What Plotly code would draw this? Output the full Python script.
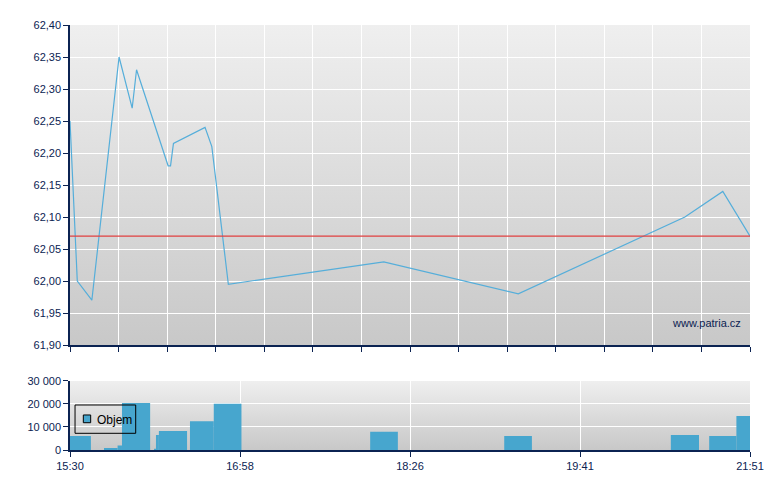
import base64
import plotly.graph_objects as go

# osa x: pozice v intervalech mřížky (0 = 15:30, 14 = 21:51)
cena_x = [0, 0.15, 0.45, 1.01, 1.28, 1.37, 2.02, 2.07, 2.13, 2.78, 2.92, 3.26,
          6.46, 9.23, 12.66, 13.44, 14.0]
cena_y = [62.25, 62.00, 61.97, 62.35, 62.27, 62.33, 62.18, 62.18, 62.215, 62.24,
          62.21, 61.995, 62.03, 61.98, 62.10, 62.14, 62.07]
predchozi_zaviraci = 62.07

objem_od = [0.0, 0.70, 0.98, 1.07, 1.73, 1.77, 1.83, 2.47, 2.96, 6.18, 8.94,
            12.37, 13.16, 13.72]
objem_do = [0.43, 0.98, 1.07, 1.65, 1.77, 1.83, 2.41, 2.96, 3.53, 6.75, 9.51,
            12.95, 13.72, 14.0]
objem = [6100, 900, 1900, 20400, 300, 6500, 8200, 12500, 20000, 7900, 6050,
         6500, 6050, 14700]

casy_pozice = [0, 3.5, 7, 10.5, 14]
casy_popisky = ["15:30", "16:58", "18:26", "19:41", "21:51"]

cena_ticky = [61.90, 61.95, 62.00, 62.05, 62.10, 62.15, 62.20, 62.25, 62.30, 62.35, 62.40]
objem_ticky = [0, 10000, 20000, 30000]

MODRA = "#47A6CE"
NAVY = "#0B2352"
FONT = "Liberation Sans, Arial, sans-serif"

# šedý přechod pozadí jako SVG obrázek
svg = ('<svg xmlns="http://www.w3.org/2000/svg" width="10" height="100" preserveAspectRatio="none">'
       '<defs><linearGradient id="g" x1="0" y1="0" x2="0" y2="1">'
       '<stop offset="0" stop-color="#EFEFEF"/><stop offset="1" stop-color="#C8C8C8"/>'
       '</linearGradient></defs><rect width="10" height="100" fill="url(#g)"/></svg>')
grad = "data:image/svg+xml;base64," + base64.b64encode(svg.encode()).decode()

sirky = [b - a for a, b in zip(objem_od, objem_do)]

fig = go.Figure()

fig.add_trace(go.Scatter(
    x=cena_x, y=cena_y, mode="lines",
    line=dict(color="#55AEDA", width=1.2),
    showlegend=False, xaxis="x", yaxis="y"))

fig.add_trace(go.Bar(
    x=objem_od, y=objem, width=sirky, offset=0,
    marker=dict(color=MODRA, line=dict(width=0)),
    showlegend=False, xaxis="x2", yaxis="y2"))

fig.add_shape(type="line", xref="x", yref="y", x0=0, x1=14,
              y0=predchozi_zaviraci, y1=predchozi_zaviraci,
              line=dict(color="#E04040", width=1.2))

# ruční legenda objemu
fig.add_shape(type="rect", xref="paper", yref="paper",
              x0=0.0074, x1=0.0966, y0=0.0393, y1=0.1059,
              line=dict(color="black", width=1), fillcolor="rgba(0,0,0,0)")
fig.add_shape(type="rect", xref="paper", yref="paper",
              x0=0.0196, x1=0.0304, y0=0.0642, y1=0.0824,
              line=dict(color="black", width=1), fillcolor=MODRA)

osa = dict(showline=True, linecolor=NAVY, linewidth=1.5, ticks="outside",
           tickcolor=NAVY, ticklen=5, gridcolor="white", gridwidth=1.2,
           zeroline=False, tickfont=dict(family=FONT, size=11, color=NAVY))

fig.update_layout(
    width=780, height=490,
    margin=dict(l=62, r=38, t=17, b=48),
    paper_bgcolor="white", plot_bgcolor="rgba(0,0,0,0)",
    separators=", ",
    showlegend=False,
    font=dict(family=FONT, size=11, color=NAVY),
    xaxis=dict(osa, domain=[0, 1], range=[0, 14], dtick=1, tick0=0,
               showticklabels=False, anchor="y"),
    yaxis=dict(osa, domain=[0.247, 1], range=[61.90, 62.40],
               tickvals=cena_ticky, tickformat=".2f", anchor="x"),
    xaxis2=dict(osa, domain=[0, 1], range=[0, 14], tickvals=casy_pozice,
                ticktext=casy_popisky, anchor="y2"),
    yaxis2=dict(osa, domain=[0, 0.163], range=[0, 30000],
                tickvals=objem_ticky, tickformat=",d", anchor="x2"),
    images=[
        dict(source=grad, xref="x", yref="y", x=0, y=62.40, sizex=14, sizey=0.5,
             sizing="stretch", layer="below", xanchor="left", yanchor="top"),
        dict(source=grad, xref="x2", yref="y2", x=0, y=30000, sizex=14, sizey=30000,
             sizing="stretch", layer="below", xanchor="left", yanchor="top"),
    ],
    annotations=[
        dict(text="www.patria.cz", xref="paper", yref="paper",
             x=0.9897, y=0.299, xanchor="right", yanchor="middle",
             showarrow=False, font=dict(family=FONT, size=11, color=NAVY)),
        dict(text="Objem", xref="paper", yref="paper",
             x=0.0363, y=0.0706, xanchor="left", yanchor="middle",
             showarrow=False, font=dict(family=FONT, size=12, color="black")),
    ],
)

fig.write_html("out.html")
